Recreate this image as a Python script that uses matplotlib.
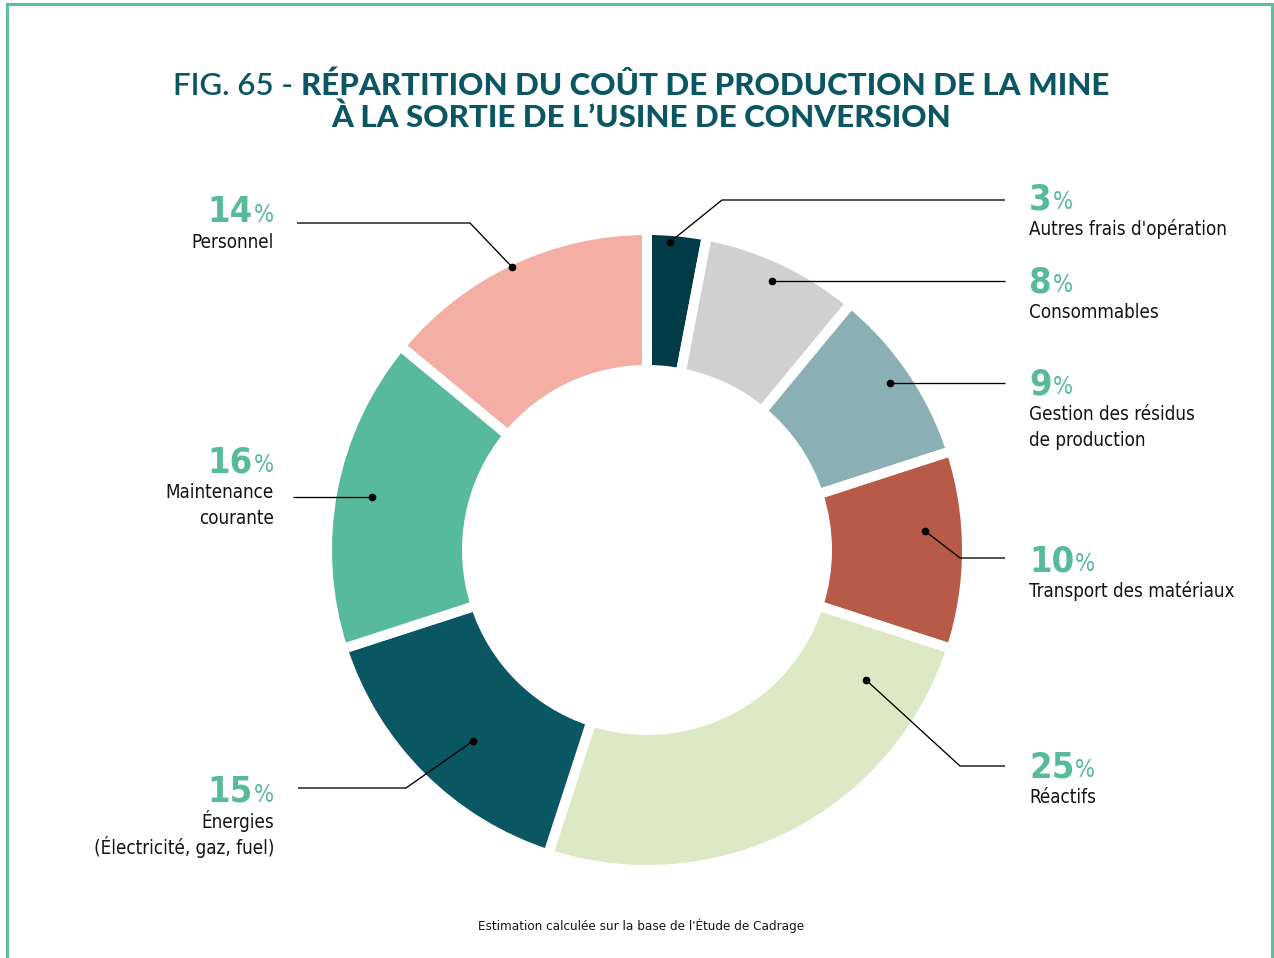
import matplotlib
matplotlib.use('Agg')
import matplotlib.pyplot as plt

W, H = 1274, 958
DPI = 100

# cost shares, clockwise from 12 o'clock
categories = ["Autres frais d'opération", "Consommables",
              "Gestion des résidus\nde production", "Transport des matériaux",
              "Réactifs", "Énergies\n(Électricité, gaz, fuel)",
              "Maintenance\ncourante", "Personnel"]
shares = [3, 8, 9, 10, 25, 15, 16, 14]
colors = ['#023b48', '#d0d0d0', '#8aafb5', '#b85a48',
          '#dde9c4', '#0b5663', '#57ba9d', '#f5aea3']

TEAL = '#0b5663'
GREEN = '#57ba9d'
HEAVY = ['Lato', 'DejaVu Sans']

# leader geometry in pixels (y downwards): dot, optional elbow, end of line,
# side of the label and baseline of the percentage
leaders = [
    ((670, 242), (722, 200), (1005, 200), 'right', 209),
    ((772, 281), None, (1005, 281), 'right', 292),
    ((890, 383), None, (1005, 383), 'right', 394),
    ((925, 531), (960, 558), (1005, 558), 'right', 571),
    ((866, 680), (960, 766), (1005, 766), 'right', 777),
    ((473, 741), (406, 788), (298, 788), 'left', 802),
    ((372, 497), None, (293, 497), 'left', 472),
    ((512, 267), (470, 223), (297, 223), 'left', 222),
]
RIGHT_X, LEFT_X = 1029, 274


def py(y):
    return H - y


fig = plt.figure(figsize=(W / DPI, H / DPI), dpi=DPI)
ax = fig.add_axes([0, 0, 1, 1])

ax.pie(shares, colors=colors, startangle=90, counterclock=False,
       radius=320, center=(647, py(550)),
       wedgeprops=dict(width=140, edgecolor='white', linewidth=7.2))
ax.set_xlim(0, W)
ax.set_ylim(0, H)
ax.set_aspect('auto')
ax.axis('off')

# green frame, open at the bottom
ax.plot([6.5, 6.5, 1271.5, 1271.5], [-10, py(3.5), py(3.5), -10],
        color='#5cbf9f', lw=2.2, solid_joinstyle='miter', clip_on=False)

# leader lines
for dot, elbow, end, side, base in leaders:
    pts = [dot] + ([elbow] if elbow else []) + [end]
    ax.plot([p[0] for p in pts], [py(p[1]) for p in pts],
            color='black', lw=0.95, solid_capstyle='butt')
    ax.plot(dot[0], py(dot[1]), 'o', color='black', ms=4.5)

cond = dict(family='DejaVu Sans', fontstretch='condensed')

# labels: big number + smaller percent sign, category lines below
num_texts = []
for cat, val, (dot, elbow, end, side, base) in zip(categories, shares, leaders):
    x = RIGHT_X if side == 'right' else LEFT_X
    ha = 'left' if side == 'right' else 'right'
    t = ax.text(x, py(base), str(val), ha=ha, va='baseline', **cond,
                fontweight='bold', fontsize=26, color=GREEN)
    for i, line in enumerate(cat.split('\n')):
        ax.text(x, py(base + 26 + 26 * i), line, ha=ha, va='baseline',
                **cond, fontsize=13.5, color='#141414')
    num_texts.append((t, side, base))

ax.text(641, py(930), "Estimation calculée sur la base de l'Étude de Cadrage",
        ha='center', va='baseline', **cond, fontsize=9.6, color='#141414')

# title pieces
t1 = ax.text(0, py(95), 'FIG. 65 - ', ha='left', va='baseline',
             family=HEAVY, fontweight='semibold', fontsize=22.5, color=TEAL)
t2 = ax.text(0, py(95), 'RÉPARTITION DU COÛT DE PRODUCTION DE LA MINE',
             ha='left', va='baseline', family=HEAVY, fontweight='black',
             fontsize=22.5, color=TEAL)
ax.text(641, py(127), 'À LA SORTIE DE L’USINE DE CONVERSION',
        ha='center', va='baseline', family=HEAVY, fontweight='black',
        fontsize=22.5, color=TEAL)

fig.canvas.draw()
r = fig.canvas.get_renderer()
w1 = t1.get_window_extent(r).width
w2 = t2.get_window_extent(r).width
x0 = 641 - (w1 + w2) / 2
t1.set_x(x0)
t2.set_x(x0 + w1)

# percent sign after each number (right side) or before the edge (left side)
for t, side, base in num_texts:
    w = t.get_window_extent(r).width
    if side == 'right':
        ax.text(RIGHT_X + w + 1, py(base), '%', ha='left', va='baseline',
                **cond, fontsize=17, color=GREEN)
    else:
        pct = ax.text(LEFT_X, py(base), '%', ha='right', va='baseline',
                      **cond, fontsize=17, color=GREEN)
        pw = pct.get_window_extent(r).width
        t.set_x(LEFT_X - pw - 1)

fig.savefig('out.png', dpi=DPI, facecolor='white')
